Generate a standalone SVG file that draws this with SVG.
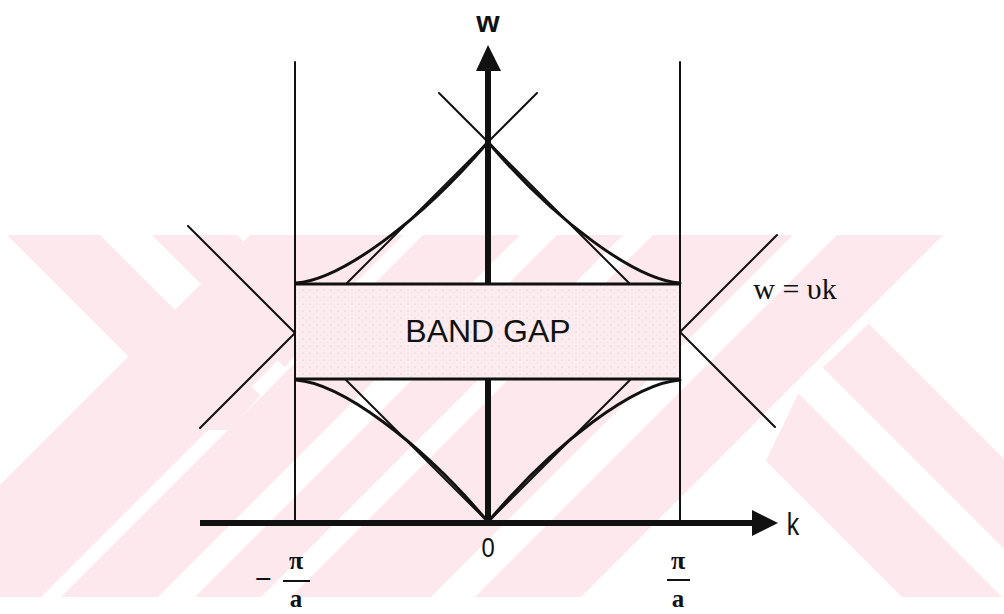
<svg xmlns="http://www.w3.org/2000/svg" width="1004" height="614" viewBox="0 0 1004 614">
<defs>
<style>
.wm{fill:#fde9ed;stroke:none}
.thin{stroke:#111;stroke-width:2;fill:none;stroke-linecap:round}
.curve{stroke:#111;stroke-width:3;fill:none;stroke-linecap:round}
.edge{stroke:#111;stroke-width:3;fill:none}
.axis{stroke:#111;stroke-width:6;fill:none}
.sans{font-family:"Liberation Sans",Arial,sans-serif;fill:#111}
.serif{font-family:"Liberation Serif","Times New Roman",serif;fill:#111}
</style>
<clipPath id="wmclip"><rect x="0" y="235" width="1004" height="362"/></clipPath>
<clipPath id="upperleft"><polygon points="0,235 400,235 230,430 0,430"/></clipPath>
<clipPath id="lowerright"><polygon points="700,597 1004,597 1004,235 960,235 800,390"/></clipPath>
<pattern id="speck" width="7" height="7" patternUnits="userSpaceOnUse">
<rect width="7" height="7" fill="#fcecef"/>
<circle cx="2" cy="3" r="0.5" fill="#bbb"/>
<circle cx="5.5" cy="6" r="0.4" fill="#ccc"/>
</pattern>
</defs>
<rect width="1004" height="614" fill="#ffffff"/>
<g id="watermark" clip-path="url(#wmclip)">
<g clip-path="url(#upperleft)">
<polygon class="wm" points="7,235 100,235 362,497 269,497"/>
<polygon class="wm" points="152,235 237,235 499,497 414,497"/>
</g>
<polygon class="wm" points="-112,597 41,597 403,235 250,235"/>
<polygon class="wm" points="61,597 158,597 520,235 423,235"/>
<polygon class="wm" points="195,597 261,597 623,235 557,235"/>
<polygon class="wm" points="291,597 431,597 793,235 653,235"/>
<polygon class="wm" points="475,597 581,597 943,235 837,235"/>
<g clip-path="url(#lowerright)">
<polygon class="wm" points="540,235 640,235 1002,597 902,597"/>
<polygon class="wm" points="690,235 780,235 1142,597 1052,597"/>
</g>
</g>
<g id="band-gap">
<rect x="295" y="284" width="385" height="95" fill="url(#speck)"/>
<line class="edge" x1="295" y1="284" x2="680" y2="284"/>
<line class="edge" x1="295" y1="379" x2="680" y2="379"/>
<text class="sans" x="488" y="342" font-size="32" text-anchor="middle">BAND GAP</text>
</g>
<g id="zone-boundaries">
<line class="thin" x1="295" y1="62" x2="295" y2="523"/>
<line class="thin" x1="680" y1="62" x2="680" y2="523"/>
</g>
<g id="free-lines">
<line class="thin" x1="347" y1="283" x2="537" y2="93"/>
<line class="thin" x1="629" y1="283" x2="439" y2="93"/>
<line class="thin" x1="346" y1="380" x2="488" y2="522"/>
<line class="thin" x1="630" y1="380" x2="488" y2="522"/>
<line class="thin" x1="188" y1="226" x2="295" y2="333"/>
<line class="thin" x1="295" y1="333" x2="200" y2="428"/>
<line class="thin" x1="777" y1="235" x2="680" y2="332"/>
<line class="thin" x1="680" y1="332" x2="775" y2="427"/>
</g>
<g id="bands">
<path class="curve" d="M296,283 C340,280 420,222 488,142"/>
<path class="curve" d="M680,283 C636,280 556,222 488,142"/>
<path class="curve" d="M296,380 C340,383 420,441 488,522"/>
<path class="curve" d="M680,380 C636,383 556,441 488,522"/>
</g>
<g id="axes">
<line class="axis" x1="488" y1="523" x2="488" y2="379"/>
<line class="axis" x1="488" y1="284" x2="488" y2="66"/>
<polygon points="488,45 476,71 501,71" fill="#111"/>
<line class="axis" x1="200" y1="523" x2="756" y2="523"/>
<polygon points="778,523 752,510 752,536" fill="#111"/>
</g>
<g id="labels">
<text class="sans" x="488" y="32" font-size="30" font-weight="bold" text-anchor="middle">w</text>
<text class="sans" x="0" y="0" font-size="31" text-anchor="middle" transform="translate(793,535) scale(0.8,1)">k</text>
<text class="sans" x="0" y="0" font-size="28" text-anchor="middle" transform="translate(488,557) scale(0.85,1)">0</text>
<text class="serif" x="795" y="299" font-size="30" text-anchor="middle">w = υk</text>
<text class="serif" x="263" y="589" font-size="30" font-weight="bold" text-anchor="middle">−</text>
<text class="serif" x="296" y="569" font-size="26" font-weight="bold" text-anchor="middle">π</text>
<line x1="283" y1="581" x2="310" y2="581" stroke="#111" stroke-width="2"/>
<text class="serif" x="296" y="607" font-size="25" font-weight="bold" text-anchor="middle">a</text>
<text class="serif" x="678" y="569" font-size="26" font-weight="bold" text-anchor="middle">π</text>
<line x1="667" y1="580" x2="690" y2="580" stroke="#111" stroke-width="2"/>
<text class="serif" x="678" y="607" font-size="25" font-weight="bold" text-anchor="middle">a</text>
</g>
</svg>
